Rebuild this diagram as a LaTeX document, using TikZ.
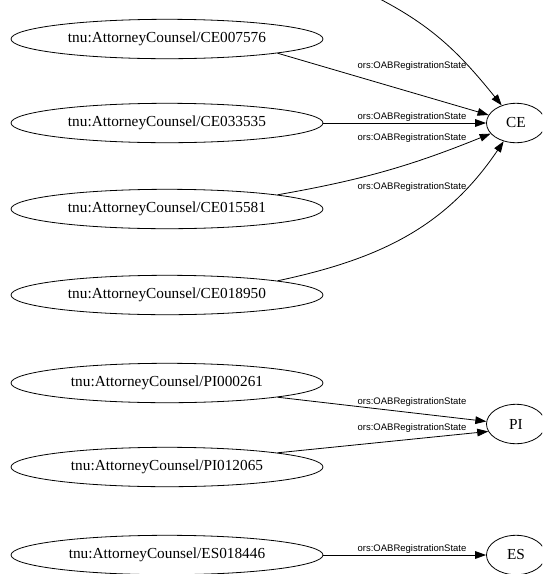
\documentclass[tikz,border=0pt]{standalone}
\usepackage{fontspec}
\setmainfont{Liberation Serif}
\newfontfamily\arialfont{Liberation Sans}
\usetikzlibrary{arrows.meta,shapes.geometric,positioning}

\begin{document}
\begin{tikzpicture}[x=1pt,y=1pt,->,>={Triangle[length=11pt,width=7.7pt]},line width=0.8pt,
                    lit node/.style={ellipse,draw,inner sep=0pt,minimum width=312pt,minimum height=39.4pt,font=\fontsize{15.3}{18}\selectfont},
                    state node/.style={ellipse,draw,inner sep=0pt,minimum width=59pt,minimum height=39.4pt,font=\fontsize{15.3}{18}\selectfont},
                    rel label/.style={font=\arialfont\fontsize{9.5}{11}\selectfont,inner sep=0pt}]

\useasboundingbox (0,0) rectangle (542,-574);
\clip (0,0) rectangle (542,-574);

\node[lit node] (ce7576) at (167,-39) {tnu:AttorneyCounsel/CE007576};
\node[lit node] (ce3535) at (167,-123) {tnu:AttorneyCounsel/CE033535};
\node[lit node] (ce5581) at (167,-209) {tnu:AttorneyCounsel/CE015581};
\node[lit node] (ce8950) at (167,-295) {tnu:AttorneyCounsel/CE018950};
\node[lit node] (pi0261) at (167,-383) {tnu:AttorneyCounsel/PI000261};
\node[lit node] (pi2065) at (167,-467) {tnu:AttorneyCounsel/PI012065};
\node[lit node] (es8446) at (167,-555) {tnu:AttorneyCounsel/ES018446};

\node[state node] (ce) at (516,-123) {CE};
\node[state node] (pi) at (516,-424) {PI};
\node[state node] (es) at (516,-555) {ES};

\coordinate (up) at (376,3);

\node[rel label] (r1) at (412,-66) {ors:OABRegistrationState};
\node[rel label] (r2) at (412,-117.5) {ors:OABRegistrationState};
\node[rel label] (r3) at (412,-138.5) {ors:OABRegistrationState};
\node[rel label] (r4) at (412,-187) {ors:OABRegistrationState};
\node[rel label] (r5) at (412,-402) {ors:OABRegistrationState};
\node[rel label] (r6) at (412,-428) {ors:OABRegistrationState};
\node[rel label] (r7) at (412,-549) {ors:OABRegistrationState};

  \path
    (up) edge [out=-27,in=129] (ce)
    (ce7576.south east) edge (ce)
    (ce3535) edge (ce)
    (ce5581.north east) edge [bend right=6] (ce)
    (ce8950.north east) edge [out=12,in=-124] (ce)
    (pi0261.south east) edge (pi.175)
    (pi2065.north east) edge (pi.195)
    (es8446) edge (es)
;
\end{tikzpicture}
\end{document}
